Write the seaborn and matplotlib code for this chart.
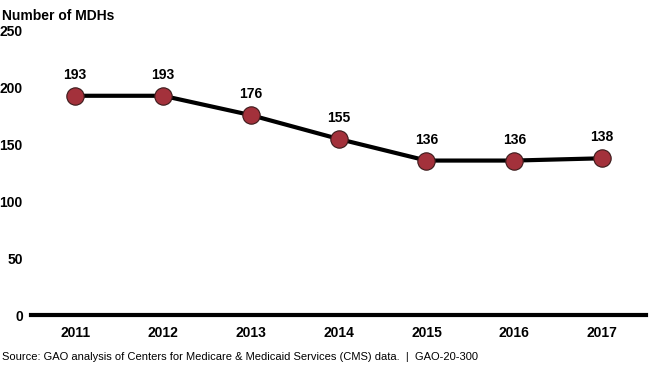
import pandas as pd
import seaborn as sns
import matplotlib.pyplot as plt

years = ['2011', '2012', '2013', '2014', '2015', '2016', '2017']
mdh_counts = [193, 193, 176, 155, 136, 136, 138]
y_ticks = [0, 50, 100, 150, 200, 250]

df = pd.DataFrame({'year': years, 'mdhs': mdh_counts})

sns.set_theme(style='white')
plt.rcParams['font.family'] = ['Liberation Sans', 'DejaVu Sans']
plt.rcParams['text.color'] = 'black'
plt.rcParams['xtick.color'] = 'black'
plt.rcParams['ytick.color'] = 'black'

fig = plt.figure(figsize=(6.5, 3.69), dpi=100)
ax = fig.add_axes([0.048, 0.146, 0.946, 0.77])

sns.lineplot(data=df, x='year', y='mdhs', ax=ax, color='black', linewidth=3,
             marker='o', markersize=12.5, markerfacecolor='#a3313b',
             markeredgecolor='#3a1a1a', markeredgewidth=0.8, sort=False)

# value labels above points
for i, v in enumerate(mdh_counts):
    ax.annotate(str(v), (i, v), xytext=(0, 10), textcoords='offset points',
                ha='center', va='bottom', fontsize=10, fontweight='bold')

ax.set_xlim(-0.5, len(years) - 0.5)
ax.set_ylim(0, 250)
ax.set_yticks(y_ticks)
ax.set_xlabel('')
ax.set_ylabel('')
ax.tick_params(axis='both', length=0, labelsize=10, labelcolor='black')
ax.tick_params(axis='y', pad=6)
ax.tick_params(axis='x', pad=8)
for lbl in ax.get_xticklabels() + ax.get_yticklabels():
    lbl.set_fontweight('bold')

sns.despine(ax=ax, left=True)
ax.spines['bottom'].set_linewidth(3)
ax.spines['bottom'].set_color('black')
ax.spines['bottom'].set_zorder(5)

fig.text(0.003, 0.975, 'Number of MDHs', fontsize=10, fontweight='bold', va='top')
fig.text(0.003, 0.018, 'Source: GAO analysis of Centers for Medicare & Medicaid Services (CMS) data.  |  GAO-20-300',
         fontsize=8, va='bottom')

fig.savefig('out.png', dpi=100)
